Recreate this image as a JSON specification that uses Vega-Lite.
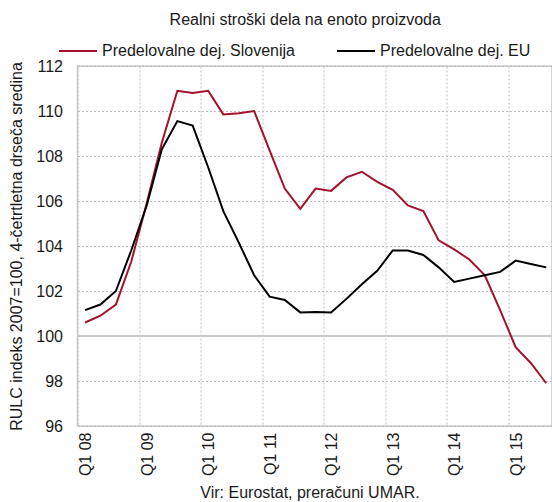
{
  "$schema": "https://vega.github.io/schema/vega-lite/v6.json",
  "width": 474.5,
  "height": 360,
  "autosize": {"type": "none"},
  "padding": {"left": 77.5, "top": 66, "right": 0, "bottom": 76},
  "config": {
    "font": "Liberation Sans",
    "view": {"stroke": "#c8c8c8", "strokeWidth": 1.5},
    "axis": {"labelColor": "#1a1a1a", "titleColor": "#1a1a1a", "labelFontSize": 16, "titleFontSize": 16, "titleFontWeight": "normal"}
  },
  "title": {
    "text": "Realni stroški dela na enoto proizvoda",
    "fontSize": 16,
    "fontWeight": "normal",
    "color": "#1a1a1a",
    "frame": "group",
    "anchor": "middle",
    "dx": -9.5,
    "offset": 3
  },
  "datasets": {
    "rulc": [
      {"q": "2008-02-15", "series": "Predelovalne dej. Slovenija", "v": 100.6},
      {"q": "2008-05-16", "series": "Predelovalne dej. Slovenija", "v": 100.9},
      {"q": "2008-08-16", "series": "Predelovalne dej. Slovenija", "v": 101.4},
      {"q": "2008-11-15", "series": "Predelovalne dej. Slovenija", "v": 103.3},
      {"q": "2009-02-15", "series": "Predelovalne dej. Slovenija", "v": 105.9},
      {"q": "2009-05-16", "series": "Predelovalne dej. Slovenija", "v": 108.6},
      {"q": "2009-08-16", "series": "Predelovalne dej. Slovenija", "v": 110.9},
      {"q": "2009-11-15", "series": "Predelovalne dej. Slovenija", "v": 110.8},
      {"q": "2010-02-15", "series": "Predelovalne dej. Slovenija", "v": 110.9},
      {"q": "2010-05-16", "series": "Predelovalne dej. Slovenija", "v": 109.85},
      {"q": "2010-08-16", "series": "Predelovalne dej. Slovenija", "v": 109.9},
      {"q": "2010-11-15", "series": "Predelovalne dej. Slovenija", "v": 110.0},
      {"q": "2011-02-15", "series": "Predelovalne dej. Slovenija", "v": 108.25},
      {"q": "2011-05-16", "series": "Predelovalne dej. Slovenija", "v": 106.55},
      {"q": "2011-08-16", "series": "Predelovalne dej. Slovenija", "v": 105.65},
      {"q": "2011-11-15", "series": "Predelovalne dej. Slovenija", "v": 106.55},
      {"q": "2012-02-15", "series": "Predelovalne dej. Slovenija", "v": 106.45},
      {"q": "2012-05-16", "series": "Predelovalne dej. Slovenija", "v": 107.05},
      {"q": "2012-08-16", "series": "Predelovalne dej. Slovenija", "v": 107.3},
      {"q": "2012-11-15", "series": "Predelovalne dej. Slovenija", "v": 106.85},
      {"q": "2013-02-15", "series": "Predelovalne dej. Slovenija", "v": 106.5},
      {"q": "2013-05-16", "series": "Predelovalne dej. Slovenija", "v": 105.8},
      {"q": "2013-08-16", "series": "Predelovalne dej. Slovenija", "v": 105.55},
      {"q": "2013-11-15", "series": "Predelovalne dej. Slovenija", "v": 104.25},
      {"q": "2014-02-15", "series": "Predelovalne dej. Slovenija", "v": 103.85},
      {"q": "2014-05-16", "series": "Predelovalne dej. Slovenija", "v": 103.4},
      {"q": "2014-08-16", "series": "Predelovalne dej. Slovenija", "v": 102.7},
      {"q": "2014-11-15", "series": "Predelovalne dej. Slovenija", "v": 101.15},
      {"q": "2015-02-15", "series": "Predelovalne dej. Slovenija", "v": 99.5},
      {"q": "2015-05-16", "series": "Predelovalne dej. Slovenija", "v": 98.8},
      {"q": "2015-08-16", "series": "Predelovalne dej. Slovenija", "v": 97.9},
      {"q": "2008-02-15", "series": "Predelovalne dej. EU", "v": 101.15},
      {"q": "2008-05-16", "series": "Predelovalne dej. EU", "v": 101.4},
      {"q": "2008-08-16", "series": "Predelovalne dej. EU", "v": 102.0},
      {"q": "2008-11-15", "series": "Predelovalne dej. EU", "v": 103.8},
      {"q": "2009-02-15", "series": "Predelovalne dej. EU", "v": 105.8},
      {"q": "2009-05-16", "series": "Predelovalne dej. EU", "v": 108.3},
      {"q": "2009-08-16", "series": "Predelovalne dej. EU", "v": 109.55},
      {"q": "2009-11-15", "series": "Predelovalne dej. EU", "v": 109.35},
      {"q": "2010-02-15", "series": "Predelovalne dej. EU", "v": 107.5},
      {"q": "2010-05-16", "series": "Predelovalne dej. EU", "v": 105.55},
      {"q": "2010-08-16", "series": "Predelovalne dej. EU", "v": 104.15},
      {"q": "2010-11-15", "series": "Predelovalne dej. EU", "v": 102.7},
      {"q": "2011-02-15", "series": "Predelovalne dej. EU", "v": 101.75},
      {"q": "2011-05-16", "series": "Predelovalne dej. EU", "v": 101.6},
      {"q": "2011-08-16", "series": "Predelovalne dej. EU", "v": 101.05},
      {"q": "2011-11-15", "series": "Predelovalne dej. EU", "v": 101.07},
      {"q": "2012-02-15", "series": "Predelovalne dej. EU", "v": 101.04},
      {"q": "2012-05-16", "series": "Predelovalne dej. EU", "v": 101.65},
      {"q": "2012-08-16", "series": "Predelovalne dej. EU", "v": 102.3},
      {"q": "2012-11-15", "series": "Predelovalne dej. EU", "v": 102.9},
      {"q": "2013-02-15", "series": "Predelovalne dej. EU", "v": 103.8},
      {"q": "2013-05-16", "series": "Predelovalne dej. EU", "v": 103.8},
      {"q": "2013-08-16", "series": "Predelovalne dej. EU", "v": 103.6},
      {"q": "2013-11-15", "series": "Predelovalne dej. EU", "v": 103.05},
      {"q": "2014-02-15", "series": "Predelovalne dej. EU", "v": 102.4},
      {"q": "2014-05-16", "series": "Predelovalne dej. EU", "v": 102.55},
      {"q": "2014-08-16", "series": "Predelovalne dej. EU", "v": 102.7},
      {"q": "2014-11-15", "series": "Predelovalne dej. EU", "v": 102.85},
      {"q": "2015-02-15", "series": "Predelovalne dej. EU", "v": 103.35},
      {"q": "2015-05-16", "series": "Predelovalne dej. EU", "v": 103.2},
      {"q": "2015-08-16", "series": "Predelovalne dej. EU", "v": 103.05}
    ]
  },
  "data": {"name": "rulc"},
  "layer": [
    {
      "mark": {"type": "rule", "color": "#c8c8c8", "strokeWidth": 1.5},
      "encoding": {"y": {"datum": 100, "type": "quantitative"}}
    },
    {
      "mark": {"type": "line", "strokeWidth": 2},
      "encoding": {
        "x": {
          "field": "q",
          "type": "temporal",
          "scale": {
            "type": "utc",
            "domain": [
              {"year": 2008, "month": 1, "date": 1, "utc": true},
              {"year": 2015, "month": 9, "date": 19, "utc": true}
            ]
          },
          "axis": {
            "values": [
              {"year": 2008, "month": 1, "date": 1, "utc": true},
              {"year": 2009, "month": 1, "date": 1, "utc": true},
              {"year": 2010, "month": 1, "date": 1, "utc": true},
              {"year": 2011, "month": 1, "date": 1, "utc": true},
              {"year": 2012, "month": 1, "date": 1, "utc": true},
              {"year": 2013, "month": 1, "date": 1, "utc": true},
              {"year": 2014, "month": 1, "date": 1, "utc": true},
              {"year": 2015, "month": 1, "date": 1, "utc": true}
            ],
            "labelExpr": "'Q1 ' + utcFormat(datum.value, '%y')",
            "labelAngle": 270,
            "labelOffset": 8,
            "labelFlush": false,
            "labelOverlap": false,
            "labelPadding": 6,
            "grid": true,
            "gridDash": [2, 2],
            "gridColor": "#bdbdbd",
            "ticks": false,
            "tickSize": 0,
            "domain": false,
            "title": "Vir: Eurostat, preračuni UMAR.",
            "titleX": 232,
            "titleY": 71,
            "titleBaseline": "alphabetic",
            "titleAlign": "center"
          }
        },
        "y": {
          "field": "v",
          "type": "quantitative",
          "scale": {"domain": [96, 112], "nice": false, "zero": false},
          "axis": {
            "values": [96, 98, 100, 102, 104, 106, 108, 110, 112],
            "grid": true,
            "gridDash": [2, 2],
            "gridColor": "#bdbdbd",
            "ticks": false,
            "tickSize": 0,
            "domain": false,
            "labelPadding": 15,
            "labelFlush": false,
            "title": "RULC indeks 2007=100, 4-četrtletna drseča sredina",
            "titleX": -56,
            "titleBaseline": "alphabetic"
          }
        },
        "color": {
          "field": "series",
          "type": "nominal",
          "scale": {
            "domain": ["Predelovalne dej. Slovenija", "Predelovalne dej. EU"],
            "range": ["#a3122a", "#000000"]
          },
          "legend": {
            "orient": "none",
            "legendX": -19.5,
            "legendY": -35,
            "direction": "horizontal",
            "title": null,
            "symbolType": "stroke",
            "symbolSize": 1444,
            "symbolStrokeWidth": 2,
            "labelFontSize": 16,
            "labelOffset": 4,
            "labelLimit": 400,
            "labelColor": "#1a1a1a",
            "columnPadding": 37
          }
        }
      }
    }
  ]
}
